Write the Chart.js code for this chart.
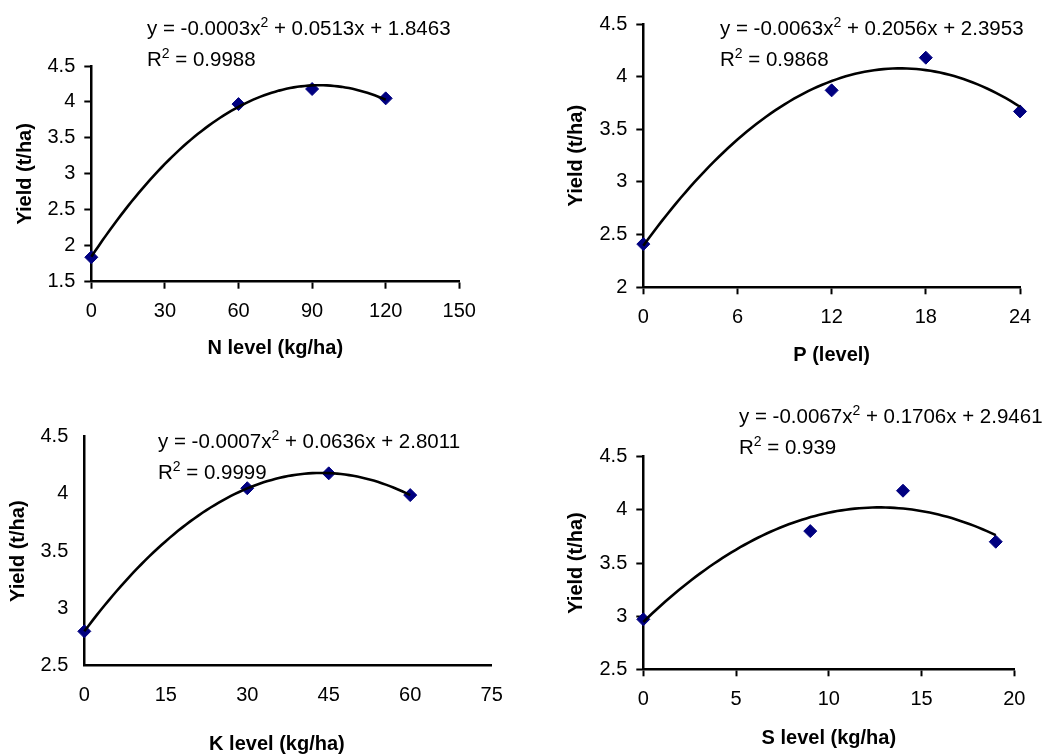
<!DOCTYPE html>
<html>
<head>
<meta charset="utf-8">
<script src="https://cdn.jsdelivr.net/npm/chart.js@4.4.1/dist/chart.umd.min.js"></script>
<style>
  body { margin: 0; background: #fff; width: 1044px; height: 756px; position: relative; overflow: hidden;
         font-family: "Liberation Sans", Arial, sans-serif; }
  .panel { position: absolute; width: 522px; height: 378px; }
  .eq { position: absolute; font-size: 20.5px; line-height: 31px; color: #000; white-space: nowrap; }
  .eq sup { font-size: 14px; line-height: 0; vertical-align: 8px; }
</style>
</head>
<body>
<div class="panel" style="left:0;top:0"><canvas id="chartN" width="522" height="378"></canvas></div>
<div class="panel" style="left:522px;top:0"><canvas id="chartP" width="522" height="378"></canvas></div>
<div class="panel" style="left:0;top:378px"><canvas id="chartK" width="522" height="378"></canvas></div>
<div class="panel" style="left:522px;top:378px"><canvas id="chartS" width="522" height="378"></canvas></div>
<script>
// yield response to nutrient levels
const nLevel = [0, 60, 90, 120];
const nYield = [1.84, 3.97, 4.18, 4.05];
const pLevel = [0, 12, 18, 24];
const pYield = [2.41, 3.87, 4.18, 3.67];
const kLevel = [0, 30, 45, 60];
const kYield = [2.80, 4.05, 4.18, 3.99];
const sLevel = [0, 9, 14, 19];
const sYield = [2.97, 3.80, 4.18, 3.70];

// axis ticks
const nTicksX = [0, 30, 60, 90, 120, 150];
const pTicksX = [0, 6, 12, 18, 24];
const kTicksX = [0, 15, 30, 45, 60, 75];
const sTicksX = [0, 5, 10, 15, 20];
const nTicksY = [1.5, 2, 2.5, 3, 3.5, 4, 4.5];
const pTicksY = [2, 2.5, 3, 3.5, 4, 4.5];
const kTicksY = [2.5, 3, 3.5, 4, 4.5];
const sTicksY = [2.5, 3, 3.5, 4, 4.5];

// trendline labels: [a, b, c, R2]
const nEq = ['-0.0003', '0.0513', '1.8463', '0.9988'];
const pEq = ['-0.0063', '0.2056', '2.3953', '0.9868'];
const kEq = ['-0.0007', '0.0636', '2.8011', '0.9999'];
const sEq = ['-0.0067', '0.1706', '2.9461', '0.939'];

const FONT = '"Liberation Sans", Arial, sans-serif';

// least squares fit of y = a x^2 + b x + c
function quadFit(xs, ys) {
  const S = k => xs.reduce((s, x) => s + Math.pow(x, k), 0);
  const T = k => xs.reduce((s, x, i) => s + Math.pow(x, k) * ys[i], 0);
  const m = [[S(4), S(3), S(2), T(2)], [S(3), S(2), S(1), T(1)], [S(2), S(1), S(0), T(0)]];
  for (let i = 0; i < 3; i++) {
    for (let j = i + 1; j < 3; j++) {
      const f = m[j][i] / m[i][i];
      for (let k = i; k < 4; k++) m[j][k] -= f * m[i][k];
    }
  }
  const r = [0, 0, 0];
  for (let i = 2; i >= 0; i--) {
    let s = m[i][3];
    for (let k = i + 1; k < 3; k++) s -= m[i][k] * r[k];
    r[i] = s / m[i][i];
  }
  return r;
}

function trendPoints(xs, ys) {
  const [a, b, c] = quadFit(xs, ys);
  const x0 = Math.min(...xs), x1 = Math.max(...xs);
  const pts = [];
  for (let i = 0; i <= 80; i++) {
    const x = x0 + (x1 - x0) * i / 80;
    pts.push({ x: x, y: a * x * x + b * x + c });
  }
  return pts;
}

function addEquation(eq, left, top) {
  const div = document.createElement('div');
  div.className = 'eq';
  div.style.left = left + 'px';
  div.style.top = top + 'px';
  div.innerHTML = 'y = ' + eq[0] + 'x<sup>2</sup> + ' + eq[1] + 'x + ' + eq[2] +
                  '<br>R<sup>2</sup> = ' + eq[3];
  document.body.appendChild(div);
}

function makePanel(id, cfg) {
  const tickColor = cfg.hideTicks ? 'rgba(0,0,0,0)' : '#000';
  const grid = { display: true, drawOnChartArea: false, drawTicks: true, tickLength: 7, tickWidth: 2, tickColor: tickColor };
  new Chart(document.getElementById(id), {
    type: 'scatter',
    data: {
      datasets: [
        {
          data: trendPoints(cfg.xs, cfg.ys),
          showLine: true,
          borderColor: '#000',
          borderWidth: 2.6,
          pointRadius: 0,
          tension: 0,
          clip: false
        },
        {
          data: cfg.xs.map((x, i) => ({ x: x, y: cfg.ys[i] })),
          pointStyle: 'rectRot',
          pointRadius: 6.5,
          backgroundColor: '#000080',
          borderColor: '#000080',
          borderWidth: 1,
          clip: false
        }
      ]
    },
    options: {
      responsive: false,
      animation: false,
      events: [],
      layout: { autoPadding: false, padding: { left: 0, top: cfg.padTop, right: cfg.padRight, bottom: 0 } },
      plugins: { legend: { display: false }, tooltip: { enabled: false } },
      scales: {
        x: {
          type: 'linear',
          min: cfg.xTicks[0],
          max: cfg.xTicks[cfg.xTicks.length - 1],
          afterBuildTicks: s => { s.ticks = cfg.xTicks.map(v => ({ value: v })); },
          afterFit: s => { s.height = cfg.xHeight; s.paddingLeft = 0; s.paddingRight = 0; },
          grid: grid,
          border: { display: true, color: '#000', width: 2.5 },
          ticks: { color: '#000', padding: 11, maxRotation: 0, font: { family: FONT, size: 20 }, callback: v => String(v) },
          title: { display: true, text: cfg.xTitle, color: '#000', padding: { top: 0, bottom: cfg.xTitlePad },
                   font: { family: FONT, size: 20, weight: 'bold' } }
        },
        y: {
          type: 'linear',
          min: cfg.yTicks[0],
          max: cfg.yTicks[cfg.yTicks.length - 1],
          afterBuildTicks: s => { s.ticks = cfg.yTicks.map(v => ({ value: v })); },
          afterFit: s => { s.width = cfg.yWidth; s.paddingTop = 0; s.paddingBottom = 0; },
          grid: grid,
          border: { display: true, color: '#000', width: 2.5 },
          ticks: { color: '#000', padding: 9, font: { family: FONT, size: 20 }, callback: v => String(v) },
          title: { display: true, text: 'Yield (t/ha)', color: '#000', padding: { top: cfg.yTitlePad, bottom: 0 },
                   font: { family: FONT, size: 20, weight: 'bold' } }
        }
      }
    }
  });
}

makePanel('chartN', { xs: nLevel, ys: nYield, xTicks: nTicksX, yTicks: nTicksY, xTitle: 'N level (kg/ha)',
  padTop: 66, padRight: 62.7, yWidth: 91.3, xHeight: 96.3, yTitlePad: 13, xTitlePad: 17.7 });
makePanel('chartP', { xs: pLevel, ys: pYield, xTicks: pTicksX, yTicks: pTicksY, xTitle: 'P (level)',
  padTop: 24, padRight: 24, yWidth: 121.3, xHeight: 90.7, yTitlePad: 42.7, xTitlePad: 11 });
makePanel('chartK', { xs: kLevel, ys: kYield, xTicks: kTicksX, yTicks: kTicksY, xTitle: 'K level (kg/ha)\u00a0\u00a0\u00a0\u00a0',
  padTop: 58.7, padRight: 30.3, yWidth: 84.3, xHeight: 90.3, yTitlePad: 6.3, xTitlePad: 0, hideTicks: true });
makePanel('chartS', { xs: sLevel, ys: sYield, xTicks: sTicksX, yTicks: sTicksY, xTitle: 'S level (kg/ha)',
  padTop: 78.7, padRight: 29.7, yWidth: 121.3, xHeight: 86.7, yTitlePad: 42.7, xTitlePad: 5.7 });

addEquation(nEq, 147, 11.5);
addEquation(pEq, 720, 11.5);
addEquation(kEq, 158, 424.5);
addEquation(sEq, 739, 399.5);
</script>
</body>
</html>
